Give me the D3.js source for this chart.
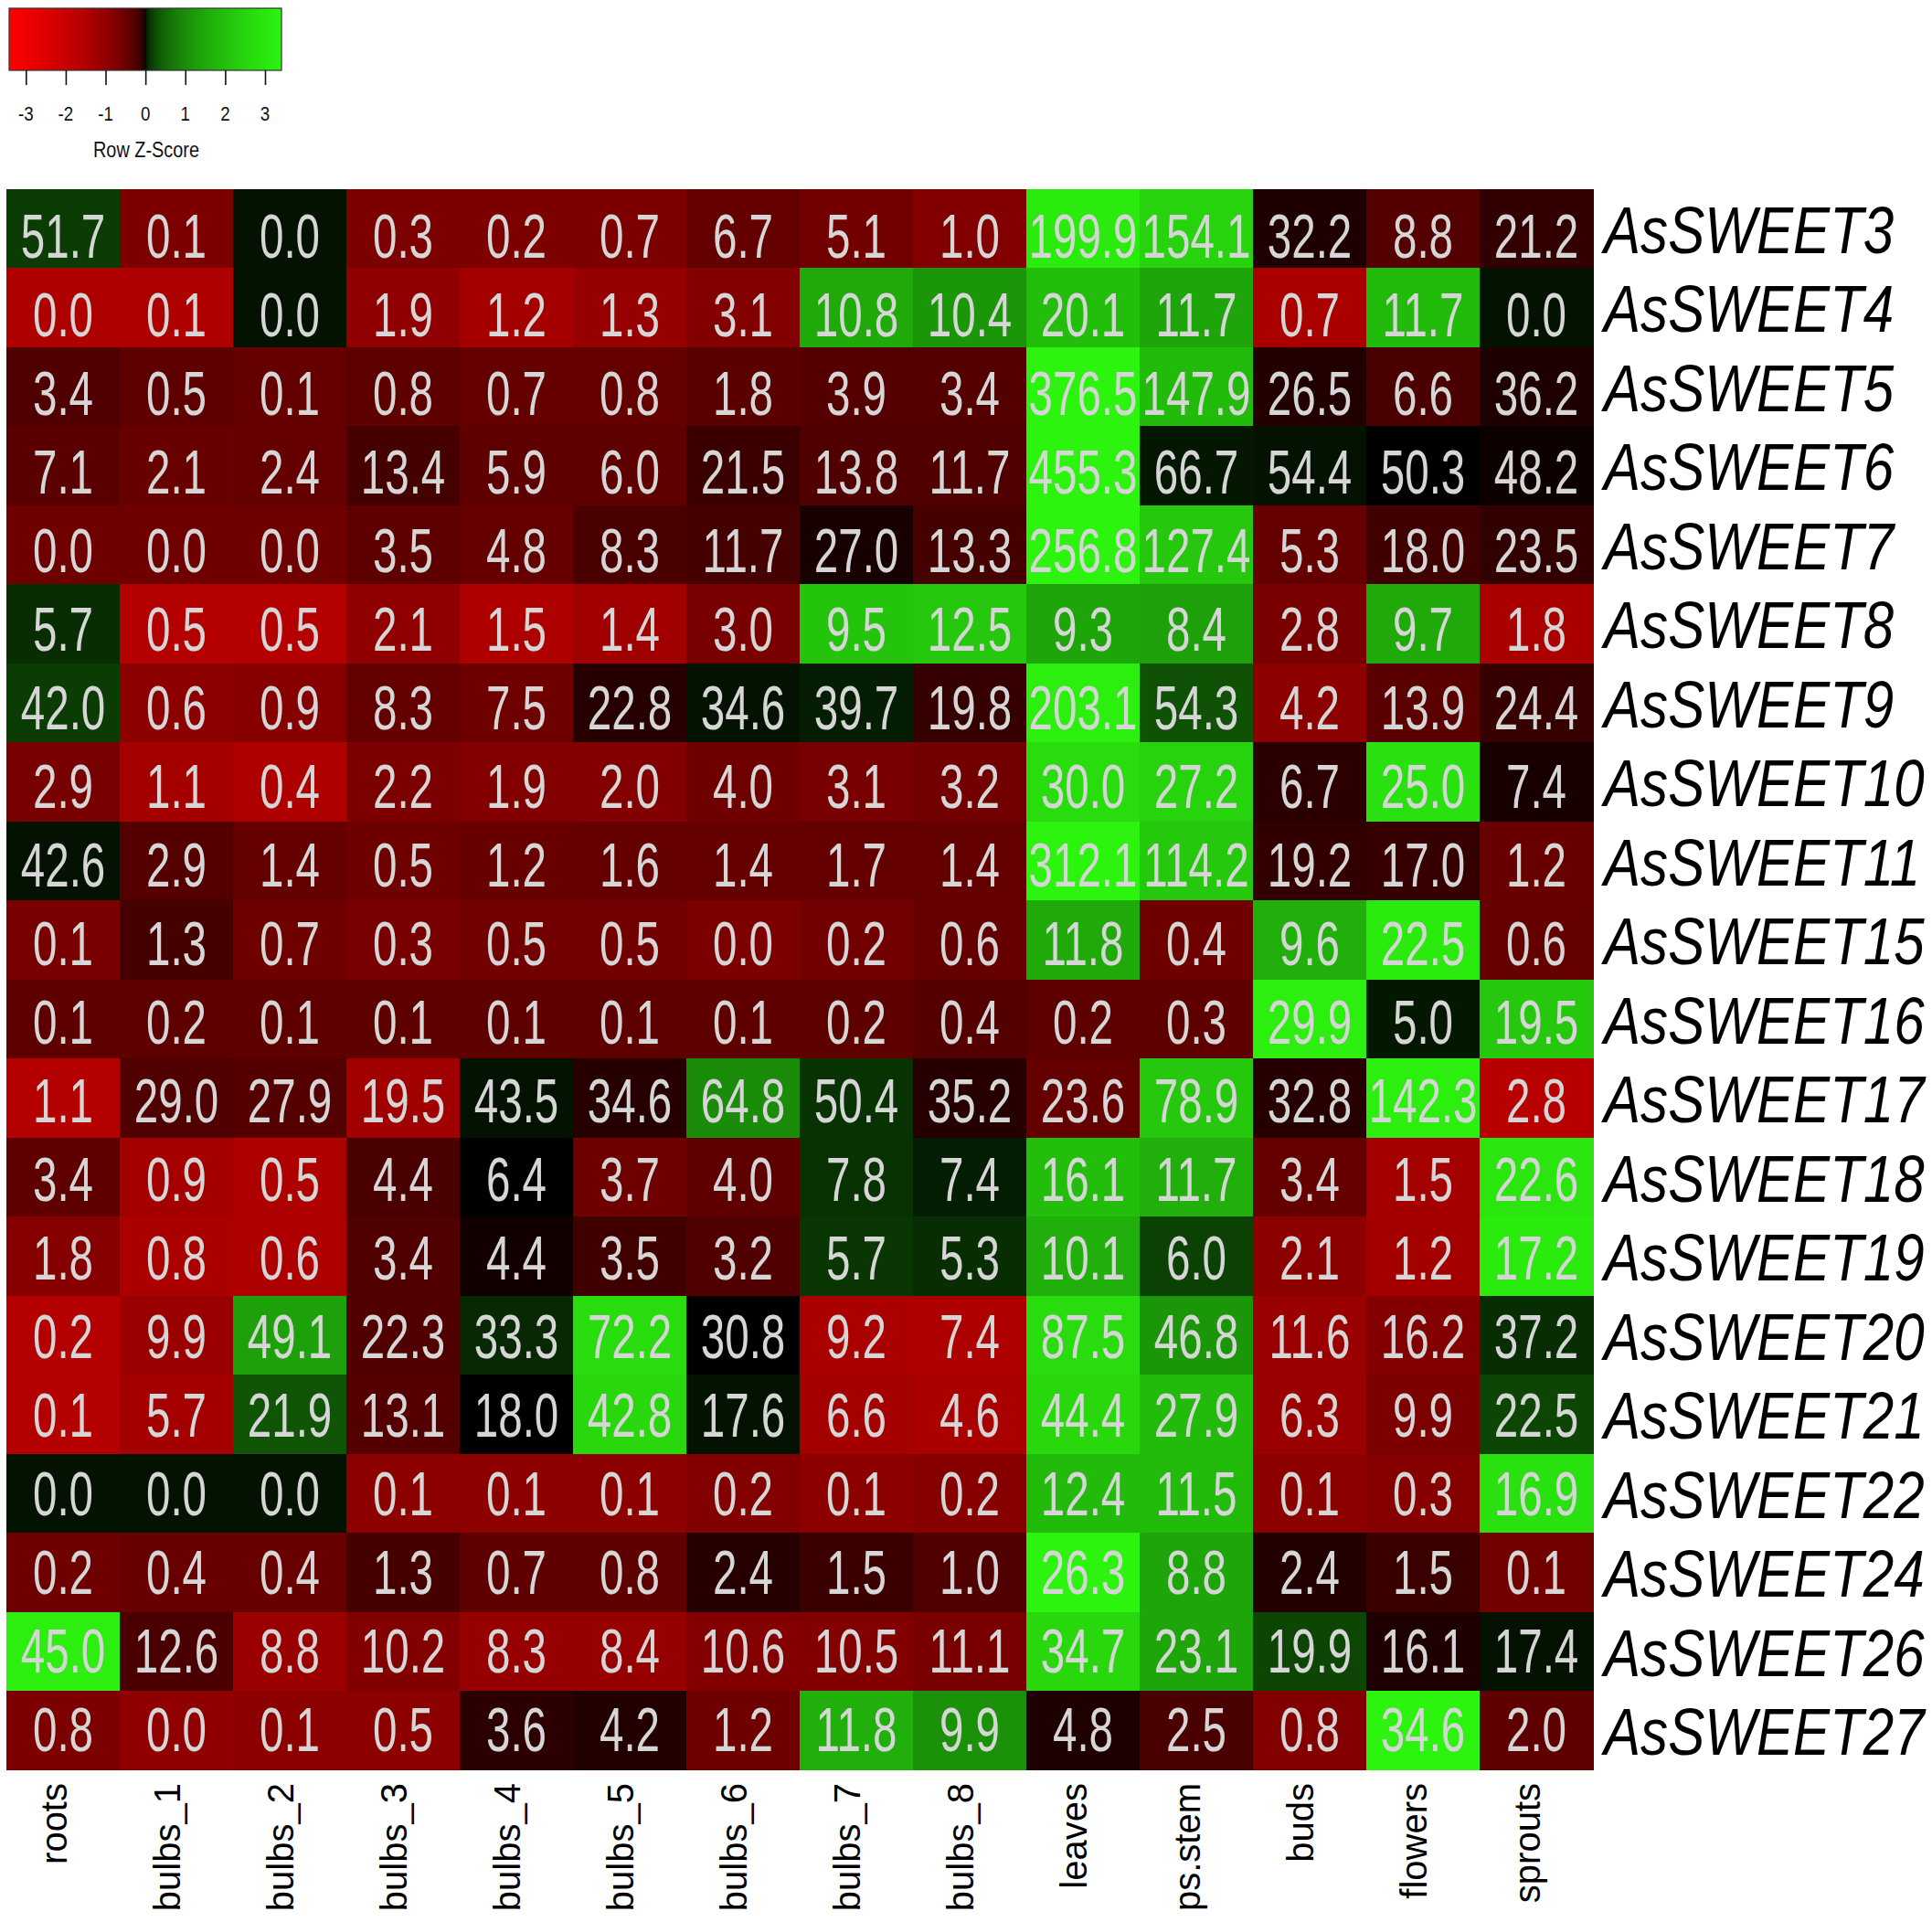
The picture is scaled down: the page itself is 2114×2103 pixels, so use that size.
<!DOCTYPE html>
<html>
<head>
<meta charset="utf-8">
<script src="https://cdn.jsdelivr.net/npm/d3@7"></script>
<style>
  html, body { margin: 0; padding: 0; background: #fff; }
  svg { display: block; }
  text { font-family: "Liberation Sans", Arial, Helvetica, sans-serif; }
</style>
</head>
<body>
<svg id="chart" width="2114" height="2103"></svg>
<script>
// ---------------- data ----------------
const samples = ["roots","bulbs_1","bulbs_2","bulbs_3","bulbs_4","bulbs_5","bulbs_6","bulbs_7","bulbs_8","leaves","ps.stem","buds","flowers","sprouts"];
const genes = ["AsSWEET3","AsSWEET4","AsSWEET5","AsSWEET6","AsSWEET7","AsSWEET8","AsSWEET9","AsSWEET10","AsSWEET11","AsSWEET15","AsSWEET16","AsSWEET17","AsSWEET18","AsSWEET19","AsSWEET20","AsSWEET21","AsSWEET22","AsSWEET24","AsSWEET26","AsSWEET27"];

// expression values printed in the cells
const cellValues = [
  [51.7, 0.1, 0.0, 0.3, 0.2, 0.7, 6.7, 5.1, 1.0, 199.9, 154.1, 32.2, 8.8, 21.2],
  [0.0, 0.1, 0.0, 1.9, 1.2, 1.3, 3.1, 10.8, 10.4, 20.1, 11.7, 0.7, 11.7, 0.0],
  [3.4, 0.5, 0.1, 0.8, 0.7, 0.8, 1.8, 3.9, 3.4, 376.5, 147.9, 26.5, 6.6, 36.2],
  [7.1, 2.1, 2.4, 13.4, 5.9, 6.0, 21.5, 13.8, 11.7, 455.3, 66.7, 54.4, 50.3, 48.2],
  [0.0, 0.0, 0.0, 3.5, 4.8, 8.3, 11.7, 27.0, 13.3, 256.8, 127.4, 5.3, 18.0, 23.5],
  [5.7, 0.5, 0.5, 2.1, 1.5, 1.4, 3.0, 9.5, 12.5, 9.3, 8.4, 2.8, 9.7, 1.8],
  [42.0, 0.6, 0.9, 8.3, 7.5, 22.8, 34.6, 39.7, 19.8, 203.1, 54.3, 4.2, 13.9, 24.4],
  [2.9, 1.1, 0.4, 2.2, 1.9, 2.0, 4.0, 3.1, 3.2, 30.0, 27.2, 6.7, 25.0, 7.4],
  [42.6, 2.9, 1.4, 0.5, 1.2, 1.6, 1.4, 1.7, 1.4, 312.1, 114.2, 19.2, 17.0, 1.2],
  [0.1, 1.3, 0.7, 0.3, 0.5, 0.5, 0.0, 0.2, 0.6, 11.8, 0.4, 9.6, 22.5, 0.6],
  [0.1, 0.2, 0.1, 0.1, 0.1, 0.1, 0.1, 0.2, 0.4, 0.2, 0.3, 29.9, 5.0, 19.5],
  [1.1, 29.0, 27.9, 19.5, 43.5, 34.6, 64.8, 50.4, 35.2, 23.6, 78.9, 32.8, 142.3, 2.8],
  [3.4, 0.9, 0.5, 4.4, 6.4, 3.7, 4.0, 7.8, 7.4, 16.1, 11.7, 3.4, 1.5, 22.6],
  [1.8, 0.8, 0.6, 3.4, 4.4, 3.5, 3.2, 5.7, 5.3, 10.1, 6.0, 2.1, 1.2, 17.2],
  [0.2, 9.9, 49.1, 22.3, 33.3, 72.2, 30.8, 9.2, 7.4, 87.5, 46.8, 11.6, 16.2, 37.2],
  [0.1, 5.7, 21.9, 13.1, 18.0, 42.8, 17.6, 6.6, 4.6, 44.4, 27.9, 6.3, 9.9, 22.5],
  [0.0, 0.0, 0.0, 0.1, 0.1, 0.1, 0.2, 0.1, 0.2, 12.4, 11.5, 0.1, 0.3, 16.9],
  [0.2, 0.4, 0.4, 1.3, 0.7, 0.8, 2.4, 1.5, 1.0, 26.3, 8.8, 2.4, 1.5, 0.1],
  [45.0, 12.6, 8.8, 10.2, 8.3, 8.4, 10.6, 10.5, 11.1, 34.7, 23.1, 19.9, 16.1, 17.4],
  [0.8, 0.0, 0.1, 0.5, 3.6, 4.2, 1.2, 11.8, 9.9, 4.8, 2.5, 0.8, 34.6, 2.0]
];

// row z-scores (colour of each cell)
const zScores = [
  [0.15, -0.70, 0.01, -0.70, -0.70, -0.70, -0.43, -0.58, -0.77, 3.10, 2.45, -0.03, -0.30, -0.09],
  [-1.48, -1.48, 0.01, -0.98, -1.30, -1.06, -0.77, 1.52, 1.16, 1.95, 1.42, -1.39, 1.85, 0.01],
  [-0.26, -0.38, -0.43, -0.38, -0.43, -0.43, -0.34, -0.30, -0.30, 3.40, 1.85, -0.04, -0.22, -0.03],
  [-0.34, -0.48, -0.43, -0.19, -0.38, -0.38, -0.13, -0.26, -0.26, 3.40, 0.02, 0.01, 0.00, -0.005],
  [-0.53, -0.53, -0.53, -0.38, -0.43, -0.22, -0.19, -0.02, -0.19, 3.40, 2.19, -0.43, -0.16, -0.09],
  [0.08, -1.58, -1.58, -0.98, -1.48, -1.22, -0.64, 2.07, 2.19, 1.42, 1.33, -0.64, 1.52, -1.39],
  [0.15, -0.91, -0.84, -0.43, -0.53, -0.05, 0.01, 0.03, -0.11, 3.25, 0.29, -0.91, -0.34, -0.11],
  [-0.64, -1.30, -1.48, -0.70, -0.77, -0.77, -0.53, -0.64, -0.58, 2.70, 2.45, -0.07, 2.85, -0.02],
  [0.01, -0.30, -0.43, -0.53, -0.48, -0.43, -0.43, -0.43, -0.43, 3.40, 2.19, -0.09, -0.11, -0.48],
  [-0.64, -0.19, -0.53, -0.64, -0.58, -0.58, -0.70, -0.58, -0.43, 1.52, -0.53, 1.62, 3.10, -0.43],
  [-0.38, -0.38, -0.38, -0.38, -0.38, -0.38, -0.38, -0.38, -0.30, -0.38, -0.38, 3.25, 0.02, 2.19],
  [-1.58, -0.26, -0.30, -1.22, 0.01, -0.05, 0.99, 0.10, -0.05, -0.43, 2.19, -0.05, 3.25, -1.68],
  [-0.38, -1.30, -1.48, -0.22, 0.00, -0.53, -0.38, 0.10, 0.03, 1.95, 1.62, -0.43, -1.30, 2.95],
  [-0.84, -1.39, -1.48, -0.26, -0.01, -0.16, -0.26, 0.12, 0.08, 1.62, 0.18, -0.91, -1.30, 3.10],
  [-1.58, -1.14, 1.33, -0.26, 0.06, 2.70, 0.00, -1.39, -1.48, 2.70, 1.16, -1.14, -0.77, 0.08],
  [-1.58, -1.30, 0.33, -0.30, 0.00, 2.60, 0.01, -1.30, -1.39, 2.60, 1.85, -1.14, -0.70, 0.21],
  [0.01, 0.01, 0.01, -0.91, -0.91, -0.91, -0.77, -0.91, -0.84, 1.85, 1.85, -0.91, -0.84, 2.85],
  [-0.53, -0.48, -0.48, -0.19, -0.38, -0.38, -0.05, -0.13, -0.26, 3.40, 1.42, -0.04, -0.13, -0.58],
  [3.25, -0.22, -1.14, -0.77, -1.06, -1.06, -0.77, -0.77, -0.64, 2.60, 1.42, 0.21, -0.03, 0.01],
  [-0.70, -0.98, -0.91, -0.91, -0.07, -0.04, -0.53, 1.62, 1.06, -0.03, -0.22, -0.77, 3.40, -0.38]
];

const keyTicks = [-3, -2, -1, 0, 1, 2, 3];
const keyTitle = "Row Z-Score";

// ---------------- drawing ----------------
const svg = d3.select("#chart");

// colour: red -> black -> green (symmetric, perceptual power ramp)
const zMax = 3.43;
const redRamp = d3.interpolateRgb("#000000", "#ff0000");
const greenRamp = d3.interpolateRgb("#000000", "#2df50f");
const color = d3.scaleDivergingPow()
  .exponent(0.45)
  .domain([-zMax, 0, zMax])
  .interpolator(t => t < 0.5 ? redRamp((0.5 - t) * 2) : greenRamp((t - 0.5) * 2))
  .clamp(true);

const x = d3.scaleBand().domain(samples).range([7, 1743]).paddingInner(0).paddingOuter(0);
const y = d3.scaleBand().domain(genes).range([206.5, 1936.5]).paddingInner(0).paddingOuter(0);

const cells = [];
genes.forEach((g, i) => samples.forEach((s, j) => {
  cells.push({ gene: g, sample: s, i, j, v: cellValues[i][j], z: zScores[i][j] });
}));

const heat = svg.append("g").attr("class", "heat");
heat.selectAll("rect")
  .data(cells)
  .join("rect")
  .attr("x", d => x(d.sample))
  .attr("y", d => y(d.gene))
  .attr("width", x.bandwidth() + 0.6)
  .attr("height", y.bandwidth() + 0.6)
  .attr("fill", d => color(d.z))
  .attr("shape-rendering", "crispEdges");

const fmt = d3.format(".1f");
heat.selectAll("text")
  .data(cells)
  .join("text")
  .attr("transform", d => {
    const cx = x(d.sample) + x.bandwidth() / 2;
    const cy = y(d.gene) + y.bandwidth() / 2 + 24 + (8 - 0.5 * d.i);
    return `translate(${cx},${cy}) scale(0.70,1)`;
  })
  .attr("text-anchor", "middle")
  .attr("font-size", 68)
  .attr("fill", "#d6d6d6")
  .text(d => fmt(d.v));

// row labels (right)
svg.append("g").selectAll("text")
  .data(genes)
  .join("text")
  .attr("transform", g => `translate(1755,${y(g) + y.bandwidth() / 2 + 27}) scale(0.835,1)`)
  .attr("font-size", 72)
  .attr("font-style", "italic")
  .attr("fill", "#000")
  .text(g => g);

// column labels (bottom, rotated)
svg.append("g").selectAll("text")
  .data(samples)
  .join("text")
  .attr("transform", s => `translate(${x(s) + x.bandwidth() / 2 + 4},1951) rotate(-90)`)
  .attr("text-anchor", "end")
  .attr("font-size", 40)
  .attr("fill", "#000")
  .text(s => s);

// ---------------- colour key ----------------
const key = svg.append("g").attr("class", "key");
const kx = d3.scaleLinear().domain([-3, 3]).range([28.3, 290]);
const kLeft = 10, kRight = 308, kTop = 9, kBottom = 77;
const strips = d3.range(kLeft, kRight, 1);
key.selectAll("rect.strip")
  .data(strips)
  .join("rect")
  .attr("class", "strip")
  .attr("x", px => px)
  .attr("y", kTop)
  .attr("width", 1.2)
  .attr("height", kBottom - kTop)
  .attr("fill", px => color(kx.invert(px + 0.5)))
  .attr("shape-rendering", "crispEdges");
key.append("rect")
  .attr("x", kLeft).attr("y", kTop)
  .attr("width", kRight - kLeft).attr("height", kBottom - kTop)
  .attr("fill", "none").attr("stroke", "#333").attr("stroke-width", 1.2);

const kAxis = d3.axisBottom(kx).tickValues(keyTicks).tickSize(16);
const ag = key.append("g").attr("transform", `translate(0,${kBottom})`).call(kAxis);
ag.select(".domain").remove();
ag.selectAll(".tick line").attr("stroke", "#111").attr("stroke-width", 1.6);
ag.selectAll(".tick text").remove();
key.selectAll("text.tl")
  .data(keyTicks)
  .join("text")
  .attr("class", "tl")
  .attr("transform", t => `translate(${kx(t)},132) scale(0.85,1)`)
  .attr("text-anchor", "middle")
  .attr("font-size", 22)
  .attr("fill", "#111")
  .text(t => String(t));
key.append("text")
  .attr("transform", `translate(160,172) scale(0.865,1)`)
  .attr("text-anchor", "middle")
  .attr("font-size", 23)
  .attr("fill", "#111")
  .text(keyTitle);
</script>
</body>
</html>
